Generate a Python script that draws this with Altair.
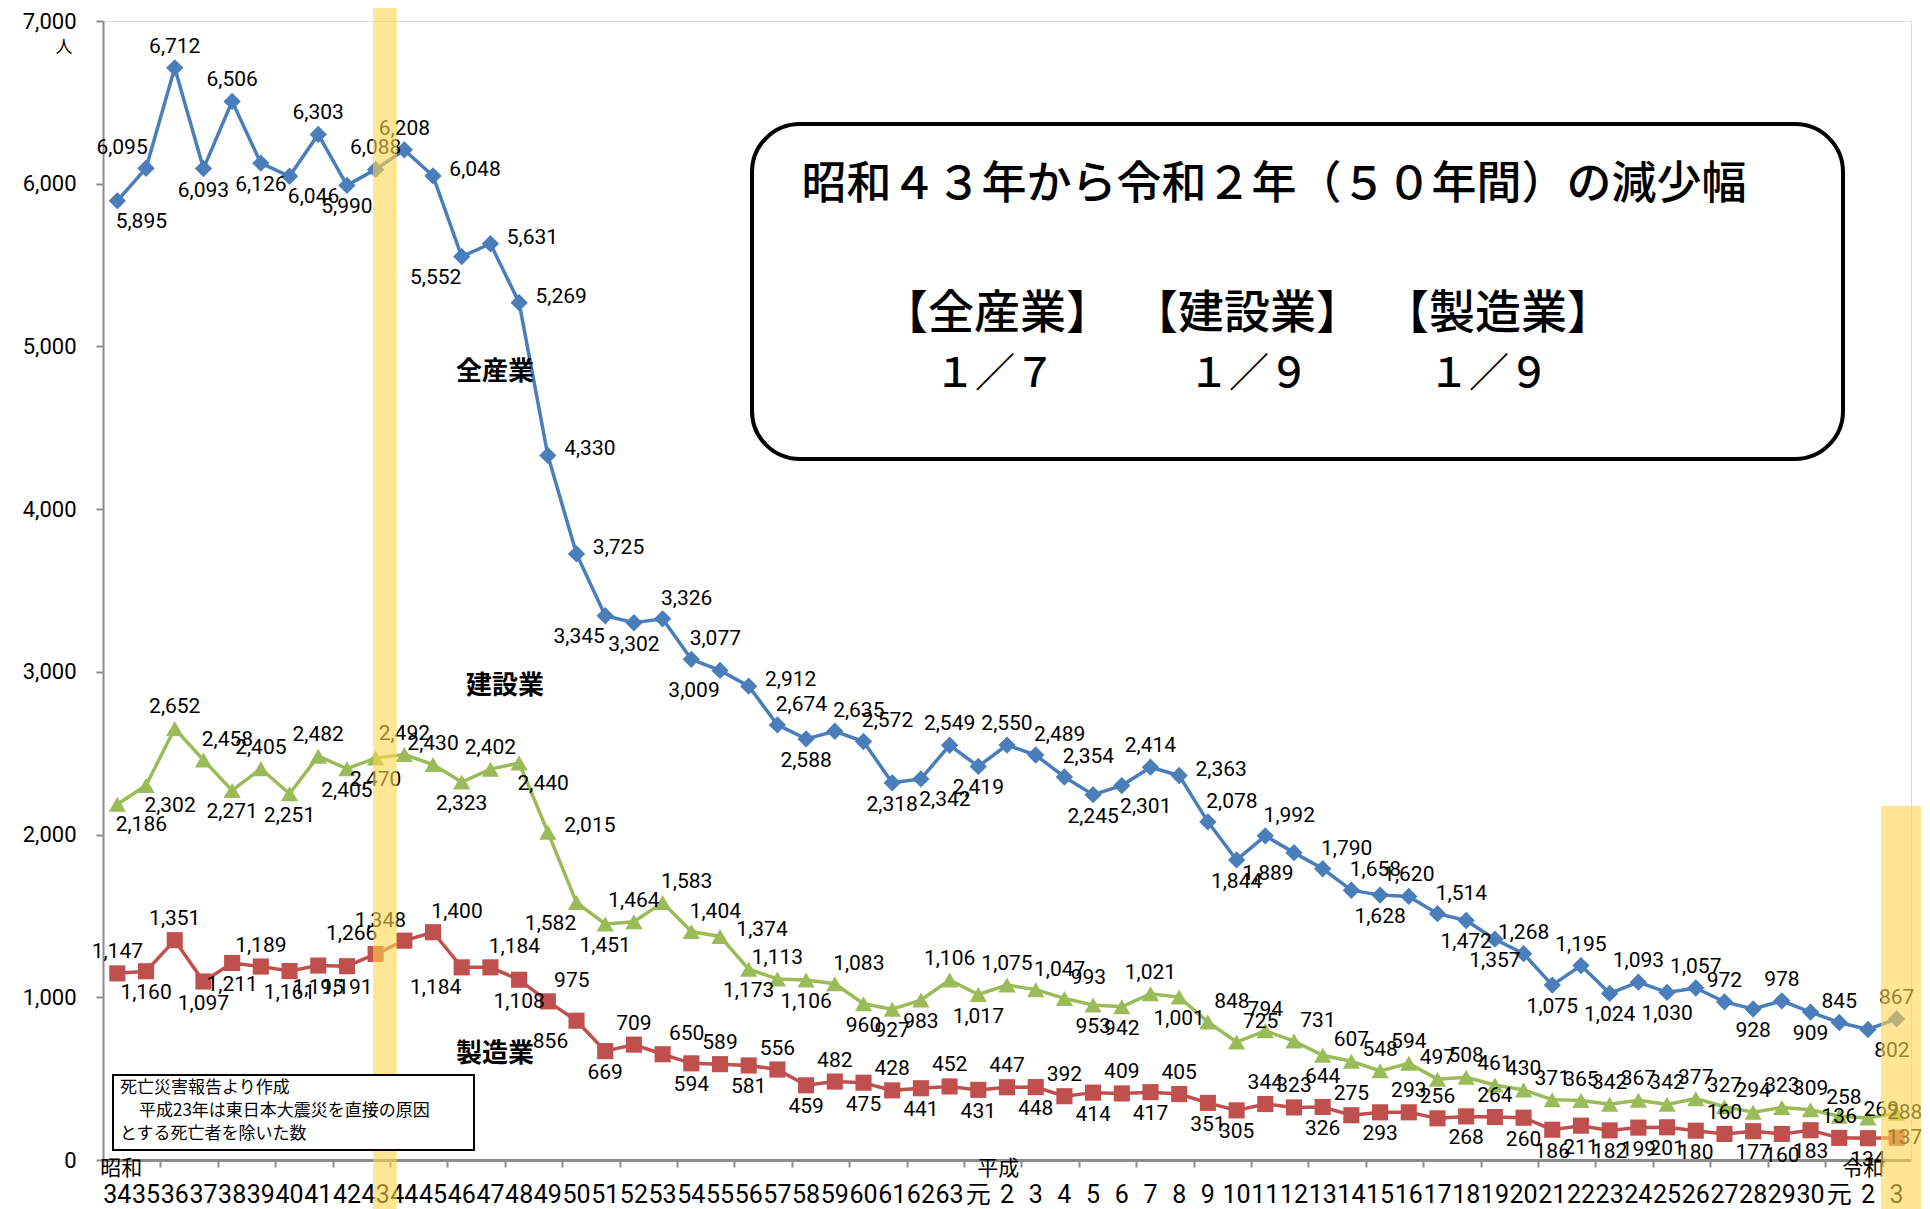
import altair as alt
import pandas as pd

# ---- category labels (年) ----
years = ["34", "35", "36", "37", "38", "39", "40", "41", "42", "43",
         "44", "45", "46", "47", "48", "49", "50", "51", "52", "53",
         "54", "55", "56", "57", "58", "59", "60", "61", "62", "63",
         "元", "2", "3", "4", "5", "6", "7", "8", "9", "10",
         "11", "12", "13", "14", "15", "16", "17", "18", "19", "20",
         "21", "22", "23", "24", "25", "26", "27", "28", "29", "30",
         "元", "2", "3"]
eras = ["昭和", "平成", "令和"]
era_first_year = [0, 30, 60]
era_dx = [4, 20, 24]

# ---- series values ----
all_industries = [5895, 6095, 6712, 6093, 6506, 6126, 6046, 6303, 5990, 6088,
                  6208, 6048, 5552, 5631, 5269, 4330, 3725, 3345, 3302, 3326,
                  3077, 3009, 2912, 2674, 2588, 2635, 2572, 2318, 2342, 2549,
                  2419, 2550, 2489, 2354, 2245, 2301, 2414, 2363, 2078, 1844,
                  1992, 1889, 1790, 1658, 1628, 1620, 1514, 1472, 1357, 1268,
                  1075, 1195, 1024, 1093, 1030, 1057, 972, 928, 978, 909,
                  845, 802, 867]
construction = [2186, 2302, 2652, 2458, 2271, 2405, 2251, 2482, 2405, 2470,
                2492, 2430, 2323, 2402, 2440, 2015, 1582, 1451, 1464, 1583,
                1404, 1374, 1173, 1113, 1106, 1083, 960, 927, 983, 1106,
                1017, 1075, 1047, 993, 953, 942, 1021, 1001, 848, 725,
                794, 731, 644, 607, 548, 594, 497, 508, 461, 430,
                371, 365, 342, 367, 342, 377, 327, 294, 323, 309,
                269, 258, 288]
manufacturing = [1147, 1160, 1351, 1097, 1211, 1189, 1161, 1195, 1191, 1266,
                 1348, 1400, 1184, 1184, 1108, 975, 856, 669, 709, 650,
                 594, 589, 581, 556, 459, 482, 475, 428, 441, 452,
                 431, 447, 448, 392, 414, 409, 417, 405, 351, 305,
                 344, 323, 326, 275, 293, 293, 256, 268, 264, 260,
                 186, 211, 182, 199, 201, 180, 160, 177, 160, 183,
                 136, 134, 137]

# ---- label placement codes (a=above, b=below, r=right, ar/al/br/bl diagonals, c=on point) ----
pos_all = ["br", "al", "a", "b", "a", "b", "br", "a", "b", "a",
           "a", "r", "bl", "r", "r", "r", "r", "bl", "b", "ar",
           "ar", "bl", "r", "ar", "b", "ar", "ar", "b", "br", "a",
           "b", "a", "ar", "ar", "b", "br", "a", "r", "ar", "b",
           "ar", "bl", "ar", "ar", "b", "a", "ar", "b", "b", "a",
           "b", "a", "b", "a", "b", "a", "a", "b", "a", "b",
           "a", "br", "a"]
pos_con = ["br", "br", "a", "ar", "b", "a", "b", "a", "b", "b",
           "a", "a", "b", "a", "br", "r", "bl", "b", "a", "ar",
           "ar", "r", "b", "a", "b", "ar", "b", "b", "b", "a",
           "b", "a", "ar", "ar", "b", "b", "a", "b", "ar", "ar",
           "a", "ar", "b", "a", "a", "a", "a", "a", "a", "a",
           "a", "a", "a", "a", "a", "a", "a", "a", "a", "a",
           "r", "al", "c"]
pos_man = ["a", "b", "a", "b", "b", "a", "b", "b", "b", "al",
           "al", "ar", "bl", "ar", "b", "ar", "bl", "b", "a", "ar",
           "b", "a", "b", "a", "b", "a", "b", "a", "b", "a",
           "b", "a", "b", "a", "b", "a", "b", "a", "b", "b",
           "a", "a", "b", "a", "b", "a", "a", "b", "a", "b",
           "b", "b", "b", "b", "b", "b", "a", "b", "b", "b",
           "a", "b", "c"]

highlight_years = [9, 62]

series_names = ["全産業", "建設業", "製造業"]
series_vals = [all_industries, construction, manufacturing]
series_pos = [pos_all, pos_con, pos_man]
series_colors = ["#4A7EBB", "#9BBB59", "#C0504D"]
series_shapes = ["diamond", "triangle-up", "square"]
series_sizes = [300, 300, 260]

rows = []
for name, vals, poss in zip(series_names, series_vals, series_pos):
    for i, (v, p) in enumerate(zip(vals, poss)):
        rows.append({"series": name, "idx": i, "value": v, "pos": p})
df = pd.DataFrame(rows)

cat_df = pd.DataFrame({"idx": list(range(len(years))), "label": years})

W, H = 1808, 1139
LABEL_FONT = "Roboto, Noto Sans CJK JP"
JP_FONT = "Noto Sans CJK JP"

xscale = alt.Scale(domain=[-0.5, len(years) - 0.5], nice=False, zero=False)
yscale = alt.Scale(domain=[0, 7000], nice=False)

x_enc = alt.X("idx:Q", scale=xscale,
              axis=alt.Axis(values=[k + 0.5 for k in range(-1, len(years))],
                            labels=False, tickSize=7, tickColor="#8c8c8c",
                            tickWidth=2, domainColor="#8c8c8c", domainWidth=3,
                            grid=False, title=None))
y_enc = alt.Y("value:Q", scale=yscale,
              axis=alt.Axis(values=[0, 1000, 2000, 3000, 4000, 5000, 6000, 7000],
                            format=",.0f", labelFontSize=22, labelFont="Roboto",
                            labelColor="black", tickSize=7, tickColor="#8c8c8c",
                            tickWidth=2, domainColor="#8c8c8c", domainWidth=2,
                            labelPadding=20, grid=False, title=None))

layers = []
# lines and markers
for name, color, shape, size in zip(series_names, series_colors, series_shapes, series_sizes):
    base = alt.Chart(df).transform_filter(alt.datum.series == name)
    layers.append(base.mark_line(color=color, strokeWidth=3.5).encode(x=x_enc, y=y_enc))
    layers.append(base.mark_point(shape=shape, filled=True, opacity=1, color=color,
                                  size=size).encode(x=x_enc, y=y_enc))

# data labels
offsets = {"a": (0, -21), "b": (0, 22), "ar": (24, -20), "al": (-24, -20),
           "br": (24, 21), "bl": (-26, 21), "r": (42, -6), "c": (8, 0)}
for code, (ddx, ddy) in offsets.items():
    layers.append(
        alt.Chart(df).transform_filter(alt.datum.pos == code)
        .mark_text(dx=ddx, dy=ddy, fontSize=21, font="Roboto", color="black",
                   baseline="middle", align="center")
        .encode(x=x_enc, y=y_enc, text=alt.Text("value:Q", format=","))
    )

# category labels (two rows)
layers.append(
    alt.Chart(cat_df).mark_text(fontSize=25, font=LABEL_FONT, color="black",
                                baseline="middle", align="center")
    .encode(x=x_enc, y=alt.value(1174), text="label:N")
)
era_df = pd.DataFrame({"idx": era_first_year, "label": eras, "dx": era_dx})
for _, r in era_df.iterrows():
    layers.append(
        alt.Chart(era_df[era_df.label == r.label]).mark_text(
            fontSize=21, font=JP_FONT, color="black", baseline="middle",
            align="center", dx=int(r.dx))
        .encode(x=x_enc, y=alt.value(1148), text="label:N")
    )

# yellow highlight bands
band_df = pd.DataFrame({"lo": [highlight_years[0] - 0.09, highlight_years[1] - 0.55],
                        "hi": [highlight_years[0] + 0.74, highlight_years[1] + 0.92]})
layers.append(
    alt.Chart(band_df.iloc[[0]]).mark_rect(color="#FFD54F", opacity=0.6)
    .encode(x=alt.X("lo:Q", scale=xscale), x2="hi:Q",
            y=alt.value(-21), y2=alt.value(1188))
)
layers.append(
    alt.Chart(band_df.iloc[[1]]).mark_rect(color="#FFD54F", opacity=0.6)
    .encode(x=alt.X("lo:Q", scale=xscale), x2="hi:Q",
            y=alt.value(785), y2=alt.value(1188))
)

one = pd.DataFrame({"k": [0]})

# note box
layers.append(
    alt.Chart(one).mark_rect(fill="white", stroke="black", strokeWidth=2)
    .encode(x=alt.value(10), x2=alt.value(371), y=alt.value(1054), y2=alt.value(1129))
)
note_lines = ["死亡災害報告より作成", "平成23年は東日本大震災を直接の原因", "とする死亡者を除いた数"]
note_x = [17, 36, 17]
note_y = [1067, 1090, 1113]
for t, xx, yy in zip(note_lines, note_x, note_y):
    layers.append(
        alt.Chart(one).mark_text(text=t, fontSize=17, font=JP_FONT, color="black",
                                 align="left", baseline="middle")
        .encode(x=alt.value(xx), y=alt.value(yy))
    )

# big rounded text box
layers.append(
    alt.Chart(one).mark_rect(fill="white", stroke="black", strokeWidth=4, cornerRadius=48)
    .encode(x=alt.value(649), x2=alt.value(1740), y=alt.value(103), y2=alt.value(438))
)
box_texts = [
    ("昭和４３年から令和２年（５０年間）の減少幅", 1171, 164, 45),
    ("【全産業】", 894, 293, 46),
    ("【建設業】", 1144, 293, 46),
    ("【製造業】", 1395, 293, 46),
    ("１／７", 892, 354, 40),
    ("１／９", 1146, 354, 40),
    ("１／９", 1386, 354, 40),
]
for t, xx, yy, fs in box_texts:
    layers.append(
        alt.Chart(one).mark_text(text=t, fontSize=fs, font=JP_FONT, fontWeight=500,
                                 color="black", align="center", baseline="middle")
        .encode(x=alt.value(xx), y=alt.value(yy))
    )

# series names
for t, xx, yy in zip(series_names, [392, 402, 392], [351, 665, 1033]):
    layers.append(
        alt.Chart(one).mark_text(text=t, fontSize=26, font=JP_FONT, fontWeight="bold",
                                 color="black", align="center", baseline="middle")
        .encode(x=alt.value(xx), y=alt.value(yy))
    )

# unit
layers.append(
    alt.Chart(one).mark_text(text="人", fontSize=17, font=JP_FONT, color="black",
                             align="center", baseline="middle")
    .encode(x=alt.value(-39), y=alt.value(27))
)

chart = alt.layer(*layers).properties(
    width=W, height=H,
    autosize=alt.AutoSizeParams(type="none"),
    padding={"left": 95, "top": 13, "right": 10, "bottom": 49},
).configure_view(stroke="transparent").configure(background="white")

chart.save("out.html", embed_options={"renderer": "svg", "actions": False})
